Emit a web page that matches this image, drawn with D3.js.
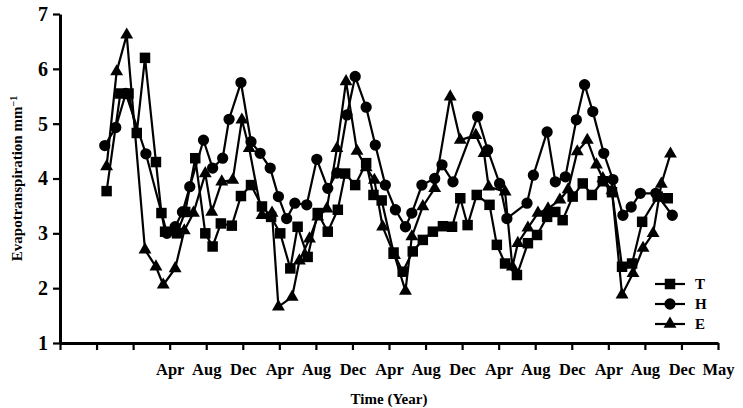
<!DOCTYPE html>
<html>
<head>
<meta charset="utf-8">
<script src="https://cdn.jsdelivr.net/npm/d3@7"></script>
<style>
  body { margin: 0; background: #fff; }
  text { font-family: "Liberation Serif", "Times New Roman", serif; fill: #000; }
  .tickText { font-weight: bold; }
</style>
</head>
<body>
<div id="chart"></div>
<script>
// months counted from the first (unlabelled) tick of the time axis
var tMonths = [5.1, 6.6, 7.5, 8.4, 9.3, 10.5, 11.1, 11.5, 12.8, 13.7, 14.8, 15.9, 16.7, 17.6, 18.8, 19.8, 20.9, 22.1, 23.1, 24.1,
  25.2, 26.0, 27.1, 28.2, 29.3, 30.4, 31.2, 32.3, 33.5, 34.3, 35.2, 36.5, 37.5, 38.6, 39.7, 40.8, 41.9, 42.9, 43.8, 44.6,
  45.6, 47.0, 47.8, 48.7, 50.0, 51.2, 52.2, 53.3, 54.2, 55.0, 56.1, 57.2, 58.2, 59.4, 60.4, 61.5, 62.6, 63.7, 65.4, 66.5];
var tValues = [3.77, 5.55, 5.55, 4.83, 6.2, 4.3, 3.37, 3.03, 3.0, 3.39, 4.37, 3.0, 2.76, 3.18, 3.14, 3.68, 3.88, 3.49, 3.3, 3.0,
  2.36, 3.12, 2.57, 3.37, 3.03, 3.43, 4.09, 3.88, 4.28, 3.7, 3.6, 2.65, 2.3, 2.67, 2.88, 3.03, 3.13, 3.12, 3.64, 3.15,
  3.7, 3.52, 2.79, 2.45, 2.24, 2.82, 2.97, 3.3, 3.39, 3.24, 3.67, 3.91, 3.7, 3.95, 3.75, 2.39, 2.45, 3.21, 3.67, 3.64];

var hMonths = [4.9, 6.1, 7.2, 9.4, 11.7, 12.6, 13.4, 14.2, 15.7, 16.7, 17.8, 18.5, 19.8, 20.9, 21.9, 23.0, 23.9, 24.8, 25.7, 27.0,
  28.1, 29.3, 30.3, 31.4, 32.3, 33.5, 34.5, 35.6, 36.7, 37.8, 38.5, 39.6, 41.0, 41.8, 43.0, 45.7, 46.8, 48.1, 48.9, 51.1,
  51.8, 53.3, 54.2, 55.3, 56.5, 57.4, 58.3, 59.5, 60.5, 61.6, 62.5, 63.5, 65.2, 67.0];
var hValues = [4.6, 4.93, 5.55, 4.45, 3.0, 3.12, 3.39, 3.85, 4.7, 4.19, 4.37, 5.08, 5.75, 4.67, 4.46, 4.19, 3.67, 3.27, 3.55, 3.52,
  4.35, 3.82, 4.1, 5.16, 5.86, 5.3, 4.61, 3.88, 3.43, 3.12, 3.37, 3.88, 4.0, 4.25, 3.94, 5.13, 4.52, 3.91, 3.27, 3.55,
  4.06, 4.85, 3.94, 4.03, 5.07, 5.71, 5.22, 4.46, 3.98, 3.33, 3.48, 3.73, 3.73, 3.33];

var eMonths = [5.1, 6.2, 7.3, 9.3, 10.5, 11.3, 12.6, 13.6, 14.6, 15.9, 16.6, 17.7, 18.9, 19.9, 20.7, 22.1, 23.2, 23.9, 25.4, 26.2,
  27.3, 28.2, 29.2, 30.3, 31.3, 32.5, 33.5, 34.4, 35.3, 36.6, 37.8, 38.5, 39.7, 41.0, 42.7, 43.8, 45.5, 46.4, 46.9, 48.7,
  49.5, 50.1, 51.2, 52.3, 53.4, 54.7, 55.6, 56.6, 57.7, 58.7, 59.4, 60.4, 61.5, 62.7, 63.8, 64.9, 65.8, 66.8];
var eValues = [4.22, 5.95, 6.62, 2.7, 2.39, 2.06, 2.36, 3.05, 3.37, 4.09, 3.39, 3.94, 3.97, 5.07, 4.55, 3.33, 3.37, 1.66, 1.84, 2.5,
  2.9, 3.3, 3.45, 4.55, 5.77, 4.5, 4.2, 3.97, 3.12, 2.6, 1.95, 2.94, 3.49, 3.82, 5.49, 4.7, 4.79, 4.46, 3.85, 3.76,
  2.39, 2.82, 3.1, 3.37, 3.45, 3.61, 3.8, 4.49, 4.7, 4.25, 4.0, 3.78, 1.88, 2.27, 2.73, 3.0, 3.9, 4.45];

var seriesNames = ["T", "H", "E"];
var xTickLabels = ["", "", "", "Apr", "Aug", "Dec", "Apr", "Aug", "Dec", "Apr", "Aug", "Dec",
  "Apr", "Aug", "Dec", "Apr", "Aug", "Dec", "May"];
var yTicks = [1, 2, 3, 4, 5, 6, 7];

var svgWidth = 743;
var svgHeight = 408;

var margin = { top: 14, right: 25, bottom: 65, left: 60 };
var width = svgWidth - margin.left - margin.right;
var height = svgHeight - margin.top - margin.bottom;

var svg = d3.select("#chart")
  .append("svg")
  .attr("width", svgWidth)
  .attr("height", svgHeight);

var chartGroup = svg.append("g")
  .attr("transform", `translate(${margin.left}, ${margin.top})`);

// scales
var xScale = d3.scaleLinear()
  .domain([0, 4 * (xTickLabels.length - 1)])
  .range([0, width]);

var yScale = d3.scaleLinear()
  .domain([1, 7])
  .range([height, 0]);

// axes
var bottomAxis = d3.axisBottom(xScale)
  .tickValues(xTickLabels.map((d, i) => i * 4))
  .tickFormat((d, i) => xTickLabels[i])
  .tickSize(7)
  .tickSizeOuter(0)
  .tickPadding(10);

var leftAxis = d3.axisLeft(yScale)
  .tickValues(yTicks)
  .tickFormat(d3.format("d"))
  .tickSize(7)
  .tickSizeOuter(0)
  .tickPadding(5);

var xAxisG = chartGroup.append("g")
  .attr("transform", `translate(0, ${height})`)
  .call(bottomAxis);

var yAxisG = chartGroup.append("g")
  .call(leftAxis);

[xAxisG, yAxisG].forEach(function(g) {
  g.select(".domain").attr("stroke", "#000").attr("stroke-width", 3);
  g.selectAll(".tick line").attr("stroke", "#000").attr("stroke-width", 2.2);
  g.selectAll(".tick text")
    .attr("class", "tickText")
    .style("font-family", "'Liberation Serif', serif")
    .style("font-weight", "bold")
    .attr("fill", "#000");
});
xAxisG.selectAll(".tick text").style("font-size", "16.5px").attr("dy", "0.9em");
yAxisG.selectAll(".tick text").style("font-size", "20px");

// series
var seriesData = [
  { name: seriesNames[0], shape: d3.symbolSquare, size: 110, points: tMonths.map((m, i) => ({ m: m, v: tValues[i] })) },
  { name: seriesNames[1], shape: d3.symbolCircle, size: 100, points: hMonths.map((m, i) => ({ m: m, v: hValues[i] })) },
  { name: seriesNames[2], shape: d3.symbolTriangle, size: 72, points: eMonths.map((m, i) => ({ m: m, v: eValues[i] })) }
];

var line = d3.line()
  .x(d => xScale(d.m))
  .y(d => yScale(d.v));

seriesData.forEach(function(s) {
  var g = chartGroup.append("g");
  g.append("path")
    .datum(s.points)
    .attr("fill", "none")
    .attr("stroke", "#000")
    .attr("stroke-width", 2.2)
    .attr("d", line);

  g.selectAll("path.marker")
    .data(s.points)
    .enter()
    .append("path")
    .attr("class", "marker")
    .attr("d", d3.symbol().type(s.shape).size(s.size))
    .attr("transform", d => `translate(${xScale(d.m)}, ${yScale(d.v)})`)
    .attr("fill", "#000");
});

// legend
var legend = chartGroup.append("g")
  .attr("transform", `translate(${width - 63}, ${height - 59})`);

seriesData.forEach(function(s, i) {
  var row = legend.append("g").attr("transform", `translate(0, ${i * 20})`);
  row.append("line")
    .attr("x1", 0).attr("x2", 30)
    .attr("stroke", "#000").attr("stroke-width", 2.2);
  row.append("path")
    .attr("d", d3.symbol().type(s.shape).size(s.size))
    .attr("transform", "translate(15, 0)")
    .attr("fill", "#000");
  row.append("text")
    .attr("x", 40)
    .attr("dy", "0.35em")
    .style("font-size", "15px")
    .style("font-weight", "bold")
    .text(s.name);
});

// Y axis label
var yLabel = chartGroup.append("text")
  .attr("transform", "rotate(-90)")
  .attr("x", 0 - height / 2)
  .attr("y", 0 - margin.left + 22)
  .attr("text-anchor", "middle")
  .style("font-size", "15px")
  .style("font-weight", "bold");
yLabel.append("tspan").text("Evapotranspiration mm");
yLabel.append("tspan")
  .attr("baseline-shift", "super")
  .style("font-size", "10px")
  .text("\u22121");

// X axis label
chartGroup.append("text")
  .attr("transform", `translate(${width / 2}, ${height + 61})`)
  .attr("text-anchor", "middle")
  .style("font-size", "15px")
  .style("font-weight", "bold")
  .text("Time (Year)");
</script>
</body>
</html>
